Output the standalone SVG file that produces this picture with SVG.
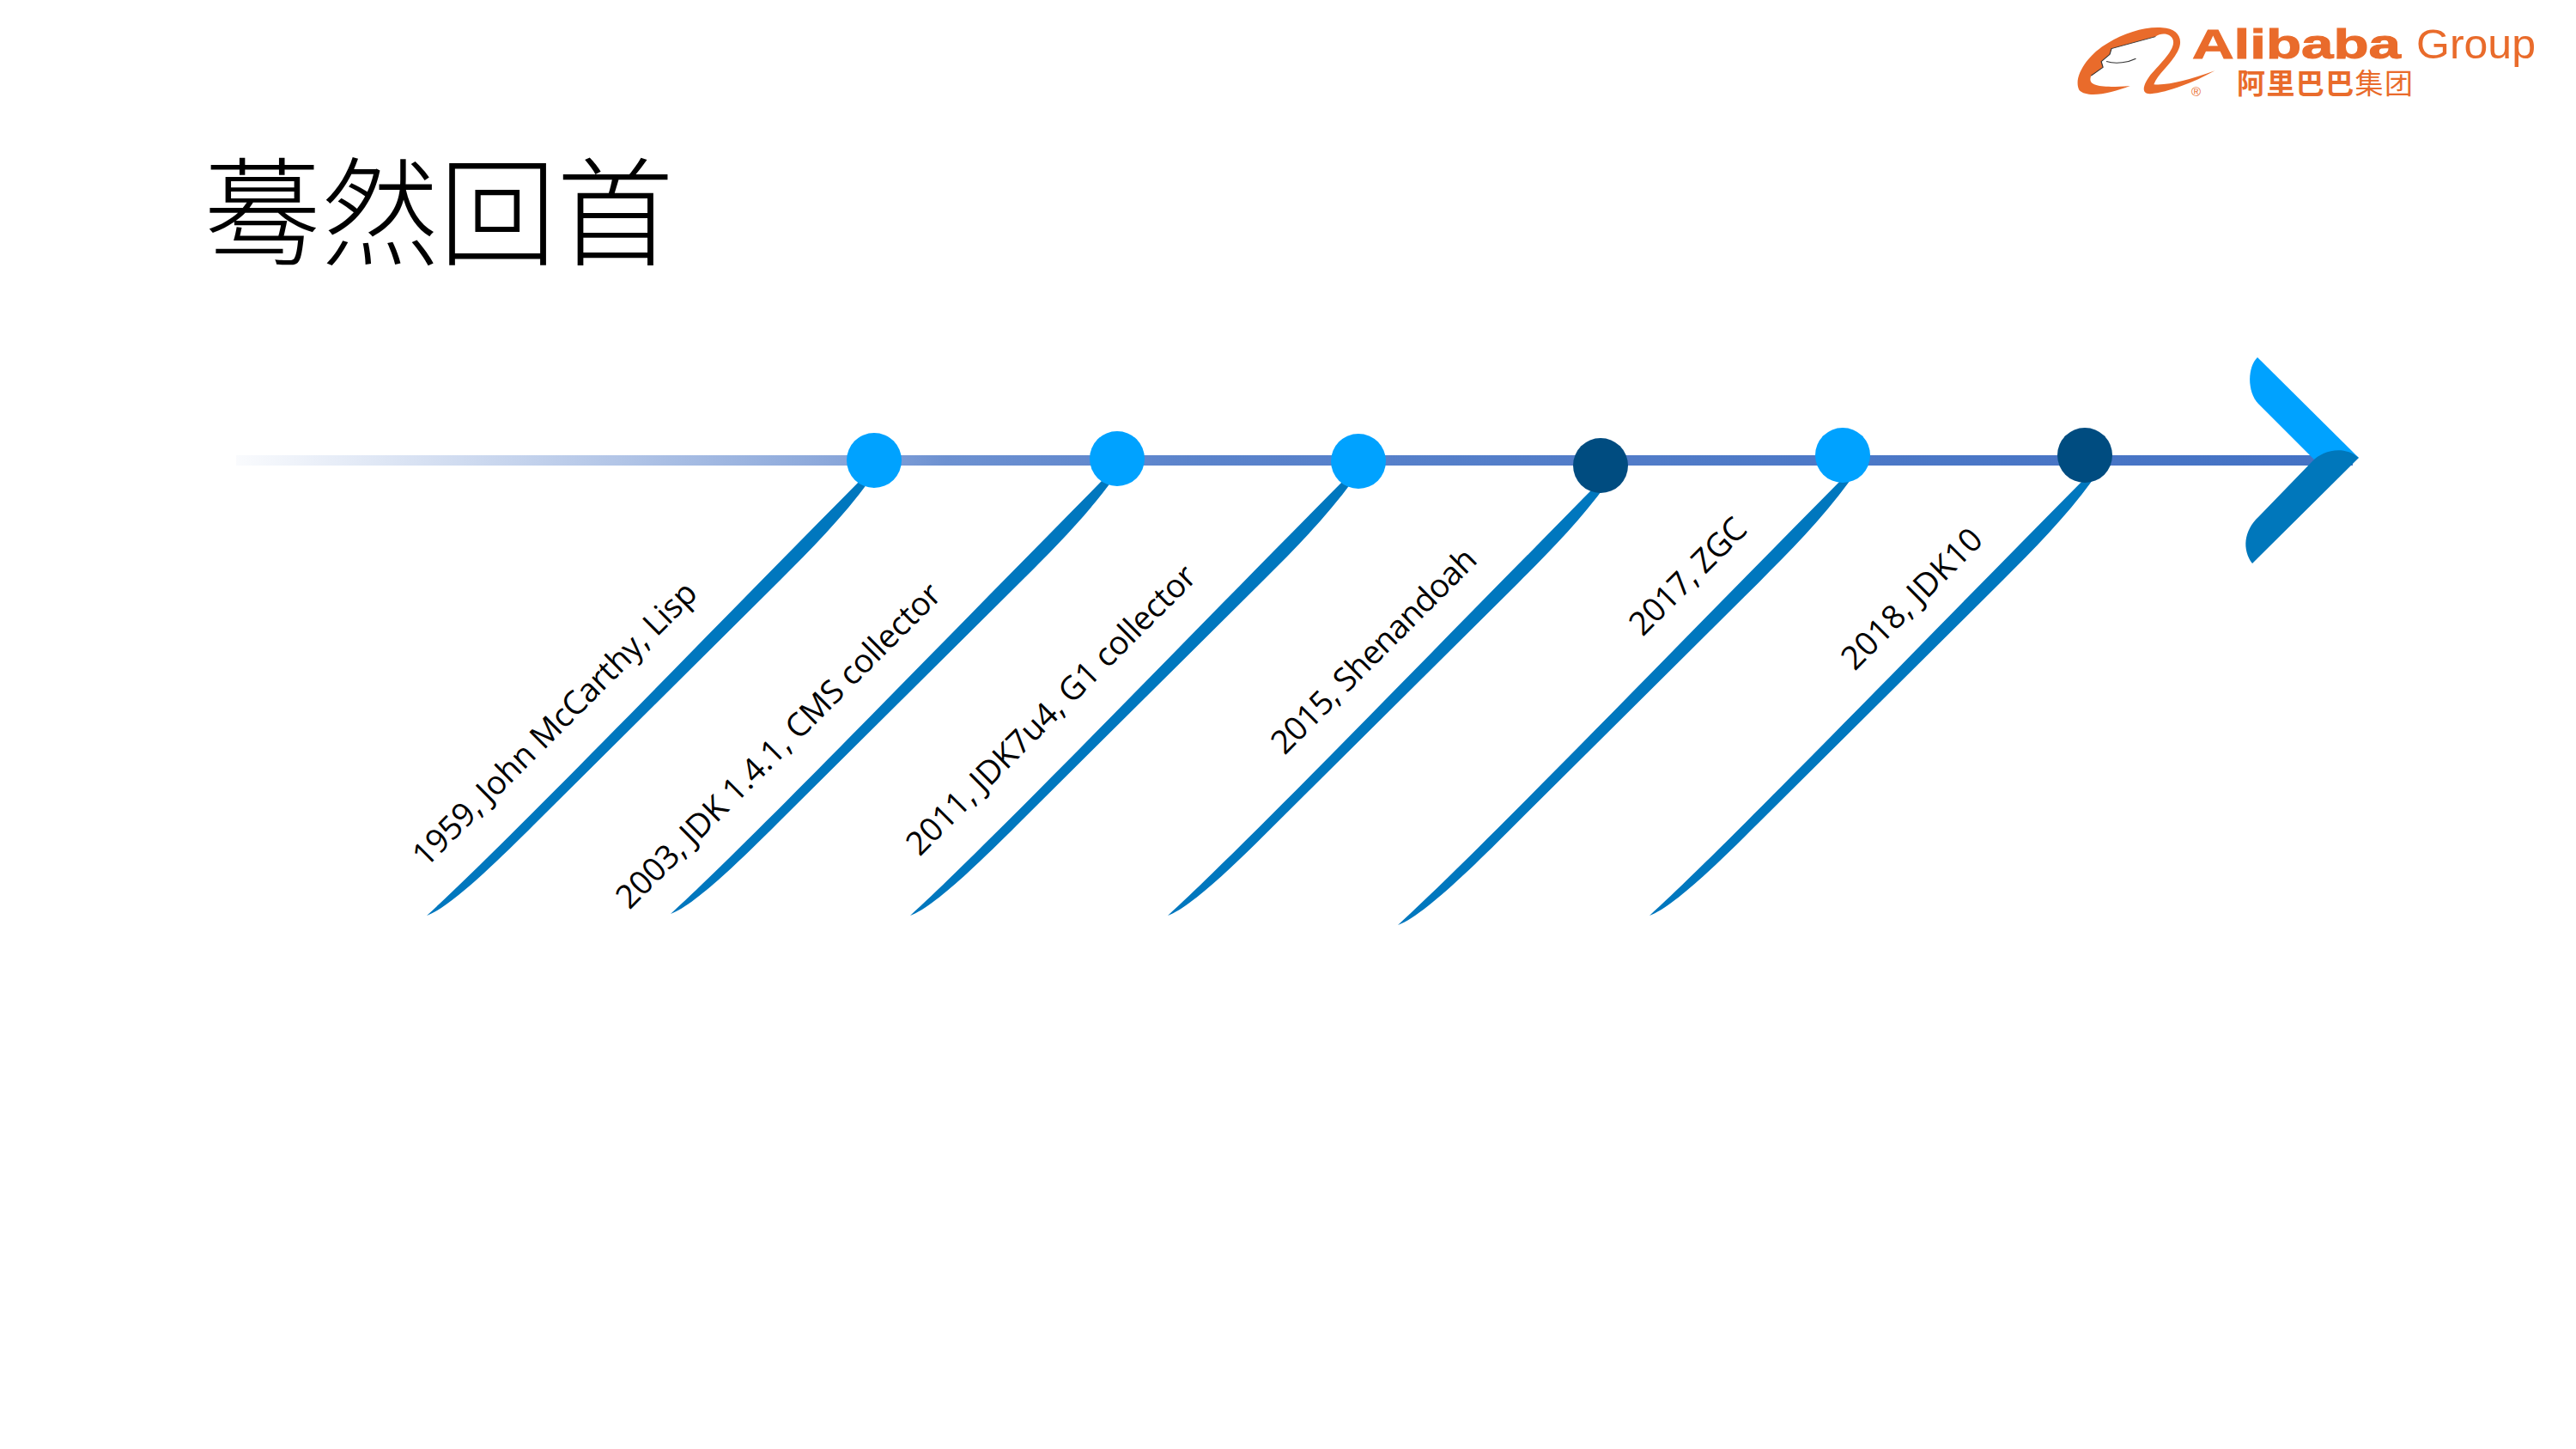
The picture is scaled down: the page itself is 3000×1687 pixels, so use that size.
<svg xmlns="http://www.w3.org/2000/svg" width="3000" height="1687" viewBox="0 0 3000 1687">
<style>
.lbl{font-family:"Open Sans","Liberation Sans",sans-serif;font-size:38px;fill:#000}
.blue{fill:#00A2FF}.dark{fill:#004C80}.spine{fill:#0077BE}
.org{fill:#E96B2B}
</style>
<defs>
<linearGradient id="g" gradientUnits="userSpaceOnUse" x1="275" y1="0" x2="2740" y2="0">
<stop offset="0" stop-color="#4472C4" stop-opacity="0.03"/>
<stop offset=".294" stop-color="#4472C4" stop-opacity="0.65"/>
<stop offset=".335" stop-color="#4472C4" stop-opacity="0.78"/>
<stop offset=".457" stop-color="#4472C4" stop-opacity="0.88"/>
<stop offset=".78" stop-color="#4472C4" stop-opacity="0.96"/>
<stop offset="1" stop-color="#4472C4"/>
</linearGradient>
<path id="sp" d="M0,0 C100,-92 300,-300 510,-512 L516,-507 C484,-463 446,-425 412,-391 L125,-106 C85,-66 28,-10 0,0Z"/>
</defs>
<rect width="3000" height="1687" fill="#fff"/>
<text id="title" x="237" y="299" font-family="'Noto Sans CJK SC',sans-serif" font-weight="300" font-size="137" textLength="548" fill="#000">蓦然回首</text>
<g id="logo">
<path class="org" transform="translate(2380,0) scale(.395,.333)" d="M255,300 C200,325 130,345 105,315 C85,270 130,190 190,150 C240,115 300,92 350,97 C395,100 415,135 395,180 C375,225 335,260 325,295 C370,300 440,275 505,247 C440,290 360,325 315,328 C285,330 295,295 310,270 C340,225 395,170 380,135 C370,115 345,115 330,128 L200,170 L195,190 L170,215 L175,235 L140,265 C130,295 150,310 255,300Z"/>
<path transform="translate(2380,0) scale(.395,.333)" fill="none" stroke="#333" stroke-width="3" d="M330,128 L200,170 L195,190 L170,215 L175,235 L140,265 M185,215 C215,225 250,218 272,205"/>
<text class="org" x="2553" y="68" stroke="#E96B2B" stroke-width="1" font-family="'Liberation Sans',sans-serif" font-weight="700" font-size="49" textLength="243" lengthAdjust="spacingAndGlyphs">Alibaba</text>
<text class="org" x="2814" y="68" font-family="'Liberation Sans',sans-serif" font-size="49" textLength="139" lengthAdjust="spacingAndGlyphs">Group</text>
<text class="org" x="2605" y="109" font-family="'Noto Sans CJK SC',sans-serif" font-size="33" textLength="205"><tspan font-weight="700">阿里巴巴</tspan>集团</text>
<text class="org" x="2552" y="112" font-family="'Liberation Sans',sans-serif" font-size="15">®</text>
</g>
<g id="connectors">
<rect x="275" y="530" width="2465" height="12" fill="url(#g)"/>
<use href="#sp" class="spine" transform="translate(497,1066)"/>
<use href="#sp" class="spine" transform="translate(781,1064)"/>
<use href="#sp" class="spine" transform="translate(1060,1066)"/>
<use href="#sp" class="spine" transform="translate(1360,1066) scale(.99,.99)"/>
<use href="#sp" class="spine" transform="translate(1628,1077) scale(1.02,1.02)"/>
<use href="#sp" class="spine" transform="translate(1921,1066) scale(1,1)"/>
</g>
<g id="arrowhead">
<path class="blue" d="M2629,416 C2617,428 2617,456 2630,470 L2697,537 L2747,533Z"/>
<path fill="#0077BB" d="M2747,533 L2623,656 C2611,640 2613,618 2630,602 L2693,537 C2705,524 2730,518 2747,533Z"/>
</g>
<g id="n1"><circle class="blue" cx="1018" cy="536" r="32"/><text class="lbl" transform="translate(496,1011) rotate(-45)" textLength="450">1959, John McCarthy, Lisp</text></g>
<g id="n2"><circle class="blue" cx="1301" cy="534" r="32"/><text class="lbl" transform="translate(733,1060) rotate(-45)" textLength="517">2003, JDK 1.4.1, CMS collector</text></g>
<g id="n3"><circle class="blue" cx="1582" cy="537" r="32"/><text class="lbl" transform="translate(1071,998) rotate(-45)" textLength="459">2011, JDK7u4, G1 collector</text></g>
<g id="n4"><circle class="dark" cx="1864" cy="542" r="32"/><text class="lbl" transform="translate(1496,880) rotate(-45)" textLength="320">2015, Shenandoah</text></g>
<g id="n5"><circle class="blue" cx="2146" cy="530" r="32"/><text class="lbl" transform="translate(1913,742) rotate(-45)" textLength="175">2017, ZGC</text></g>
<g id="n6"><circle class="dark" cx="2428" cy="530" r="32"/><text class="lbl" transform="translate(2160,782) rotate(-45)" textLength="214">2018, JDK10</text></g>
</svg>
